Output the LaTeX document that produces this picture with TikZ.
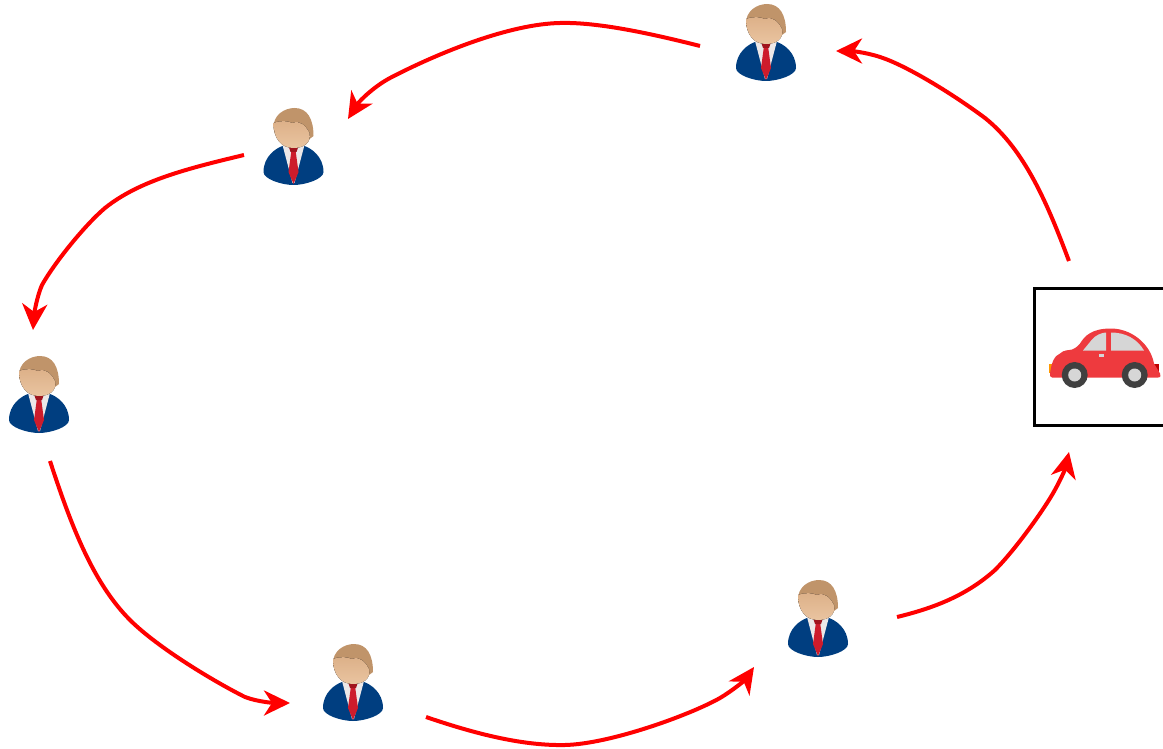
\documentclass[tikz,border=0pt]{standalone}
\usetikzlibrary{arrows.meta}

\definecolor{suit}{RGB}{0,62,128}
\definecolor{shirt}{RGB}{236,232,232}
\definecolor{tie}{RGB}{205,28,44}
\definecolor{knot}{RGB}{160,20,30}
\definecolor{hair}{RGB}{192,148,106}
\definecolor{skinlight}{RGB}{234,196,160}
\definecolor{skindark}{RGB}{220,176,136}
\definecolor{carred}{RGB}{238,58,62}
\definecolor{glass}{RGB}{214,214,214}
\definecolor{tyre}{RGB}{64,64,64}

\begin{document}
\begin{tikzpicture}[x=1pt,y=-1pt]
        % Define block styles
        \tikzstyle{block} = [rectangle, draw, line width=3pt, minimum width=132pt, minimum height=137pt, outer xsep=0pt, outer ysep=27pt]
        \tikzstyle{user} = [circle, inner sep=0pt, minimum size=70pt]
        \tikzstyle{line} = [draw, red, line width=4pt, -{Stealth[length=26pt,width=25pt,inset=8pt]}]
        \tikzset{
            user icon/.pic={
                \fill [suit] (-11,-1) .. controls (-17,1) and (-30,9) .. (-30,25) .. controls (-30,32) and (-12,38) .. (0,38) .. controls (12,38) and (30,32) .. (30,25) .. controls (30,9) and (17,1) .. (11,-1) -- cycle;
                \fill [shirt] (-11,-2) -- (11,-2) -- (1,36) -- (-1,36) -- cycle;
                \fill [tie] (-2,3) -- (2,3) -- (5,25) -- (0,37) -- (-5,25) -- cycle;
                \fill [knot] (-5,-1) -- (5,-1) -- (3,5) -- (-3,5) -- cycle;
                \fill [hair] (-20,-18) .. controls (-21,-32) and (-9,-39) .. (1,-39) .. controls (14,-39) and (20,-28) .. (20,-11) -- (16,-8) -- (-18,-12) -- cycle;
                \fill [top color=skindark, bottom color=skinlight] (-20,-24) .. controls (-12,-27) and (-6,-26) .. (-1,-24) .. controls (6,-27) and (12,-22) .. (16,-14) .. controls (18,-4) and (10,1) .. (0,1) .. controls (-12,1) and (-20,-8) .. (-20,-24) -- cycle;
            },
            car icon/.pic={
                \fill [orange!80!yellow] (-51,7) rectangle (-46,16);
                \fill [red!75!black] (54,7) rectangle (59,16);
                \fill [carred] (-50,17) .. controls (-49,8) and (-46,-1) .. (-40,-3) .. controls (-36,-7) and (-31,-6) .. (-28,-7) .. controls (-23,-9) and (-22,-11) .. (-20,-13) .. controls (-15,-21) and (-8,-28) .. (11,-28) .. controls (30,-28) and (50,-14) .. (54,7) -- (60,17) .. controls (61,21) and (60,21) .. (58,21) -- (-48,21) .. controls (-50,21) and (-50,19) .. (-50,17) -- cycle;
                \fill [glass] (-17,-6) -- (-8,-17) .. controls (-5,-21) and (2,-24) .. (6,-24) -- (6,-6) -- cycle;
                \fill [glass] (11,-24) .. controls (25,-24) and (37,-18) .. (44,-6) -- (11,-6) -- cycle;
                \fill [glass] (-1,-2.5) rectangle (4,0);
                \foreach \cx in {-25.3,34.7} {
                    \fill [tyre] (\cx,18.5) circle (13);
                    \fill [glass] (\cx,18.5) circle (6.5);
                }
            }
        }

        \useasboundingbox (0,0) rectangle (1163,749);

        % Nodes
        \node [block] (car) at (1100,356.5) {};
        \node [user] (user1) at (766,43) {};
        \node [user] (user2) at (293.5,147) {};
        \node [user] (user3) at (39,395) {};
        \node [user] (user4) at (353,683) {};
        \node [user] (user5) at (818,619) {};

        \pic at (car) {car icon};
        \foreach \who in {user1,user2,user3,user4,user5} {
            \pic at (\who) {user icon};
        }

        % Arrow ends
        \coordinate (user1_in) at ([shift={(70,8)}]user1);
        \coordinate (user1_out) at ([shift={(-66,3)}]user1);
        \coordinate (user2_in) at ([shift={(54.5,-28)}]user2);
        \coordinate (user2_out) at ([shift={(-49.5,8)}]user2);
        \coordinate (user3_in) at ([shift={(-6,-65)}]user3);
        \coordinate (user3_out) at ([shift={(11,66)}]user3);
        \coordinate (user4_in) at ([shift={(-63,20)}]user4);
        \coordinate (user4_out) at ([shift={(73,34)}]user4);
        \coordinate (user5_in) at ([shift={(-64,48)}]user5);
        \coordinate (user5_out) at ([shift={(79,-2)}]user5);

        % Arrows
        \path [line] (car.108) .. controls (1048,205) and (1025,150) .. (985,118) .. controls (950,92) and (905,65) .. (880,57) .. controls (865,52) and (850,51) .. (user1_in);
        \path [line] (user1_out) .. controls (645,32) and (595,22) .. (560,23) .. controls (510,24) and (440,52) .. (390,78) .. controls (375,86) and (360,100) .. (user2_in);
        \path [line] (user2_out) .. controls (190,168) and (140,180) .. (105,208) .. controls (85,225) and (55,262) .. (42,285) .. controls (37,296) and (34,315) .. (user3_in);
        \path [line] (user3_out) .. controls (70,522) and (92,582) .. (130,620) .. controls (158,648) and (215,682) .. (245,697) .. controls (258,702) and (275,703) .. (user4_in);
        \path [line] (user4_out) .. controls (470,732) and (520,746) .. (565,745) .. controls (610,744) and (690,715) .. (720,698) .. controls (732,691) and (745,680) .. (user5_in);
        \path [line] (user5_out) .. controls (930,609) and (965,597) .. (995,570) .. controls (1015,550) and (1042,512) .. (1052,495) .. controls (1058,485) and (1065,470) .. (car.252);

    \end{tikzpicture}
\end{document}
